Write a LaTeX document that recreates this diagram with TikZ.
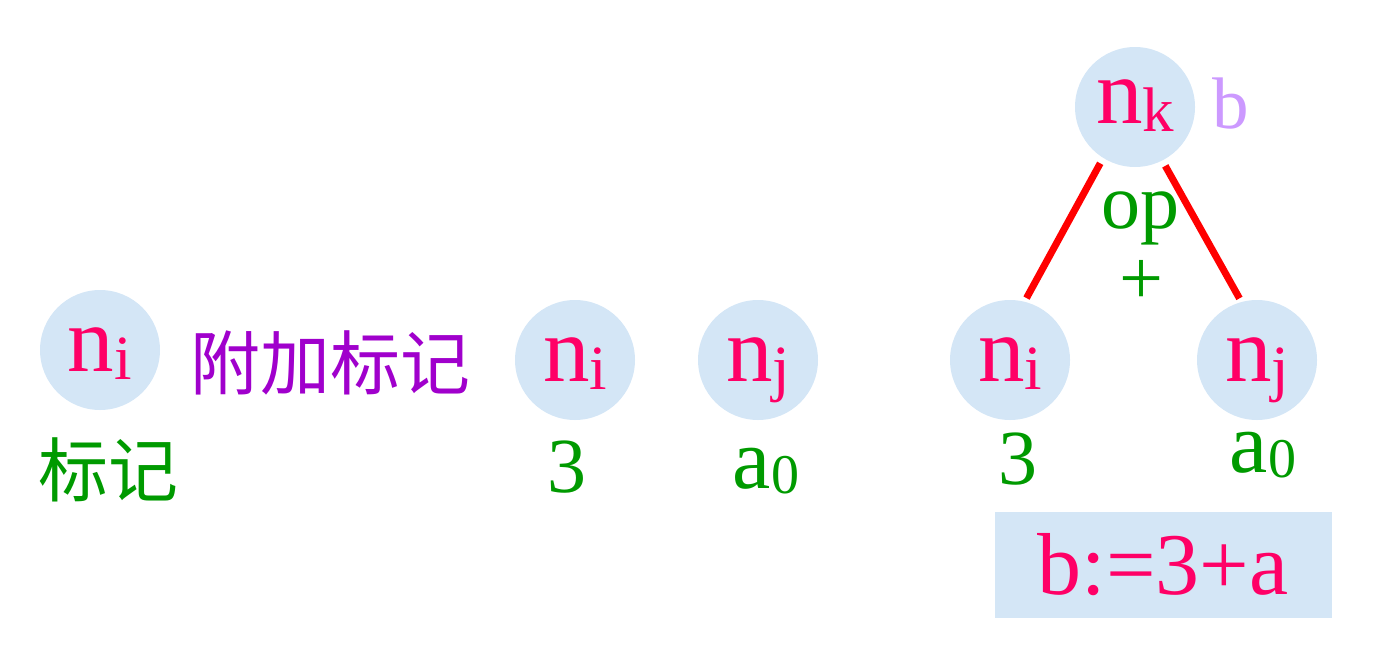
\documentclass[tikz,border=0pt]{standalone}
\usepackage{fontspec}
\setmainfont{Liberation Serif}
\newfontfamily\cjk{Noto Sans CJK SC}
\usetikzlibrary{positioning}
\definecolor{nodered}{HTML}{FF0066}
\definecolor{bubble}{HTML}{D4E6F6}
\definecolor{tagpurple}{HTML}{A000CC}
\definecolor{taggreen}{HTML}{009A00}
\definecolor{lilac}{HTML}{CC99FF}
\tikzstyle{vertex}=[circle, fill=bubble, minimum size=120pt, inner sep=0pt, text=nodered,
  text height=43pt, text depth=0pt]
\tikzstyle{tag}=[text=taggreen, inner sep=0pt, anchor=base, font=\fontsize{78}{78}\selectfont]
\tikzstyle{cjktag}=[inner sep=0pt, font=\cjk\fontsize{70}{70}\selectfont]
\tikzstyle{edge}=[draw, red, line width=7pt, shorten <=6pt, shorten >=4pt]
\tikzstyle{block}=[rectangle, fill=bubble, minimum width=337pt, minimum height=106pt,
  inner sep=0pt, text=nodered, font=\fontsize{88}{88}\selectfont]
\newcommand{\nlab}[1]{{\fontsize{93}{93}\selectfont n}\raisebox{-8pt}{\fontsize{63}{63}\selectfont #1}}
\newcommand{\alab}{{\fontsize{86}{86}\selectfont a}\raisebox{-5pt}{\fontsize{56}{56}\selectfont 0}}

\begin{document}
\begin{tikzpicture}[x=1pt, y=-1pt]
  \useasboundingbox (0,0) rectangle (1378,664);
  % left: a node with its mark
  \node [vertex] (n1) at (100,350) {\nlab{i}};
  \node [cjktag, text=taggreen] (m1) at (108,470) {标记};
  \node [cjktag, text=tagpurple] (t1) at (330,363) {附加标记};

  % two leaves
  \node [vertex] (n2) at (575,360) {\nlab{i}};
  \node [tag] (m2) at (567,492) {3};
  \node [vertex] (n3) at (758,360) {\nlab{j}};
  \node [tag] (m3) at (766,488) {\alab};

  % the tree
  \node [vertex, text depth=11pt] (nk) at (1135,107) {\nlab{k}};
  \node [inner sep=0pt, anchor=base, text=lilac, font=\fontsize{73}{73}\selectfont]
    (b) at (1231,128) {b};
  \node [vertex] (n4) at (1010,360) {\nlab{i}};
  \node [vertex] (n5) at (1257,360) {\nlab{j}};
  \node [tag] (op) at (1140,228) {op};
  \node [tag] (plus) at (1141,282) [anchor=center] {+};
  \node [tag] (m4) at (1018,484) {3};
  \node [tag] (m5) at (1263,472) {\alab};
  \draw [edge] (nk.238) -- (n4.76);
  \draw [edge] (nk.297) -- (n5.105);

  \node [block] (code) at (1163,565) {b:=3+a};
\end{tikzpicture}
\end{document}
